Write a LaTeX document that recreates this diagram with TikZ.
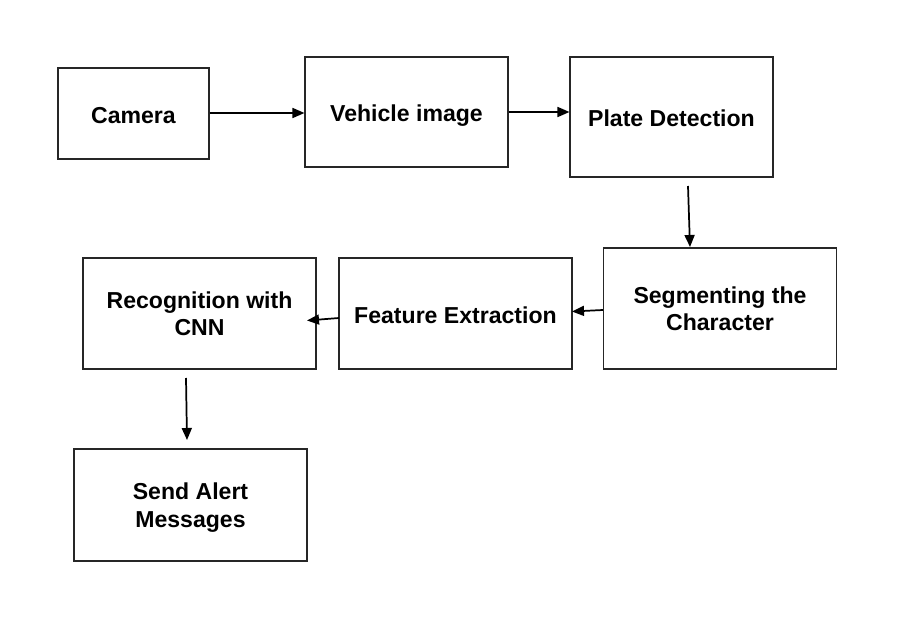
\documentclass[tikz,border=0pt]{standalone}
\usepackage{fontspec}
\setmainfont{Liberation Sans}
\usetikzlibrary{arrows.meta,calc}
\begin{document}
\begin{tikzpicture}[x=0.75pt,y=-0.75pt,
  blockbox/.style={draw=black!85,line width=0.8pt,fill=white,inner sep=0pt,align=center,
    font=\fontsize{17.3}{20.5}\selectfont\bfseries},
  oneline/.style={text height=16pt,text depth=1.6pt},
  twoline/.style={text depth=0pt},
  flowarrow/.style={draw=black,line width=1.3pt,-{Triangle[length=9pt,width=7.5pt]}}]
\useasboundingbox (0,0) rectangle (907,635);
\fill[white] (0,0) rectangle (907,635);
\newcommand{\blk}[7]{\node[blockbox,#7,minimum width=#4*0.75pt,minimum height=#5*0.75pt] (#1) at (#2,#3) {#6};}
\blk{camera}{133.5}{113.5}{151}{91}{Camera}{oneline}
\blk{vehicle}{406.5}{112}{203}{110}{Vehicle image}{oneline}
\blk{plate}{671.5}{117}{203}{120}{Plate Detection}{oneline}
\blk{segment}{720}{308.5}{233}{121}{Segmenting the\\Character}{twoline}
\blk{feature}{455.5}{313.5}{233}{111}{Feature Extraction}{oneline}
\blk{recog}{199.5}{313.5}{233}{111}{Recognition with\\CNN}{twoline}
\blk{alert}{190.5}{505}{233}{112}{Send Alert\\Messages}{twoline}
\coordinate (pd1) at (688,186);
\coordinate (pd2) at (690,247);
\coordinate (sf1) at (603,310);
\coordinate (sf2) at (572,311.5);
\coordinate (fr1) at (339,318);
\coordinate (fr2) at (307,320.5);
\coordinate (ra1) at (186,378);
\coordinate (ra2) at (187,440);
\draw[flowarrow] (camera.east |- 0,113) -- (vehicle.west |- 0,113);
\draw[flowarrow] (vehicle.east |- 0,112) -- (plate.west |- 0,112);
\draw[flowarrow] (pd1) -- (pd2);
\draw[flowarrow] (sf1) -- (sf2);
\draw[flowarrow] (fr1) -- (fr2);
\draw[flowarrow] (ra1) -- (ra2);
\end{tikzpicture}
\end{document}
